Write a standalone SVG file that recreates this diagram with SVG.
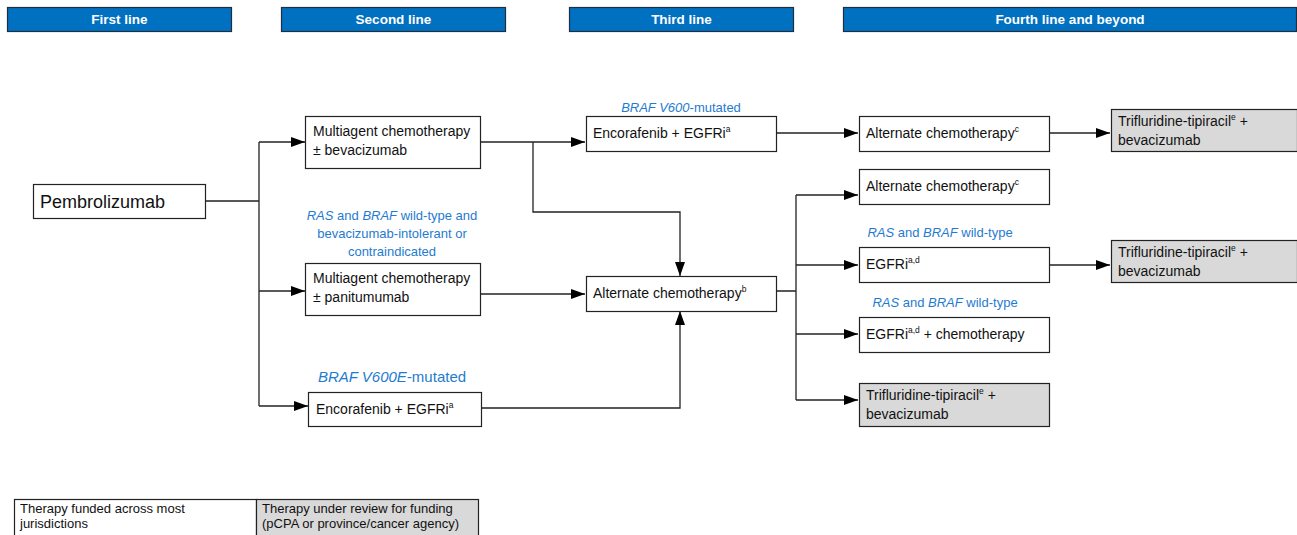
<svg xmlns="http://www.w3.org/2000/svg" width="1297" height="535" viewBox="0 0 1297 535">
<style>
.hdr{fill:#0070C0;stroke:#1f2f3f;stroke-width:1.2}
.ht{fill:#fff;font-family:"Liberation Sans",Arial,sans-serif;font-weight:bold;font-size:13.5px;text-anchor:middle}
.box{fill:#fff;stroke:#222;stroke-width:1.2}
.gbox{fill:#d9d9d9;stroke:#222;stroke-width:1.2}
.t{fill:#111;font-family:"Liberation Sans",Arial,sans-serif;font-size:14px}
.b{fill:#1F7BD0;font-family:"Liberation Sans",Arial,sans-serif;font-size:13px;text-anchor:middle}
.c{fill:none;stroke:#222;stroke-width:1.3}
.lg{fill:#111;font-family:"Liberation Sans",Arial,sans-serif;font-size:13px}
</style>
<defs>
<marker id="ar" viewBox="0 0 14 10" refX="14" refY="5" markerWidth="14" markerHeight="10" markerUnits="userSpaceOnUse" orient="auto">
<path d="M0,0 L14,5 L0,10 Z" fill="#000"/>
</marker>
</defs>
<rect width="1297" height="535" fill="#fff"/>
<g id="headers">
<rect class="hdr" x="7.5" y="7.5" width="224" height="24"/><text class="ht" x="119.5" y="24">First line</text>
<rect class="hdr" x="281.5" y="7.5" width="224" height="24"/><text class="ht" x="393.5" y="24">Second line</text>
<rect class="hdr" x="569.5" y="7.5" width="224" height="24"/><text class="ht" x="681.5" y="24">Third line</text>
<rect class="hdr" x="843.5" y="7.5" width="453" height="24"/><text class="ht" x="1070" y="24">Fourth line and beyond</text>
</g>
<g id="connectors">
<path class="c" d="M206,201 H259 M259,142 V406"/>
<path class="c" d="M259,142 H305" marker-end="url(#ar)"/>
<path class="c" d="M259,291 H305" marker-end="url(#ar)"/>
<path class="c" d="M259,406 H308" marker-end="url(#ar)"/>
<path class="c" d="M480,142 H585" marker-end="url(#ar)"/>
<path class="c" d="M533,142 V212 H680 V276" marker-end="url(#ar)"/>
<path class="c" d="M480,294 H585" marker-end="url(#ar)"/>
<path class="c" d="M481,408 H680 V311" marker-end="url(#ar)"/>
<path class="c" d="M776,133 H858" marker-end="url(#ar)"/>
<path class="c" d="M1049,133 H1110" marker-end="url(#ar)"/>
<path class="c" d="M776,291 H796 M796,195 V400"/>
<path class="c" d="M796,195 H858" marker-end="url(#ar)"/>
<path class="c" d="M796,265 H858" marker-end="url(#ar)"/>
<path class="c" d="M796,334 H858" marker-end="url(#ar)"/>
<path class="c" d="M796,400 H858" marker-end="url(#ar)"/>
<path class="c" d="M1049,265 H1110" marker-end="url(#ar)"/>
</g>
<g id="pembrolizumab">
<rect class="box" x="33.5" y="184.5" width="172" height="34"/>
<text class="t" x="40" y="208" style="font-size:18px">Pembrolizumab</text>
</g>
<g id="chemo-bev">
<rect class="box" x="305.5" y="116.5" width="175" height="52"/>
<text class="t" x="313" y="136">Multiagent chemotherapy</text>
<text class="t" x="313" y="155">± bevacizumab</text>
</g>
<g id="label-ras-bev">
<text class="b" x="392" y="220"><tspan font-style="italic">RAS</tspan> and <tspan font-style="italic">BRAF</tspan> wild-type and</text>
<text class="b" x="392" y="238">bevacizumab-intolerant or</text>
<text class="b" x="392" y="256">contraindicated</text>
</g>
<g id="chemo-pan">
<rect class="box" x="305.5" y="263.5" width="175" height="52"/>
<text class="t" x="313" y="283">Multiagent chemotherapy</text>
<text class="t" x="313" y="302">± panitumumab</text>
</g>
<g id="enco-2">
<text class="b" x="392" y="382" style="font-size:15px"><tspan font-style="italic">BRAF V600E</tspan>-mutated</text>
<rect class="box" x="308.5" y="392.5" width="173" height="34"/>
<text class="t" x="316" y="414">Encorafenib + EGFRi<tspan font-size="8.5" dy="-6">a</tspan></text>
</g>
<g id="enco-3">
<text class="b" x="681" y="112"><tspan font-style="italic">BRAF V600</tspan>-mutated</text>
<rect class="box" x="586.5" y="116.5" width="190" height="35"/>
<text class="t" x="593" y="138">Encorafenib + EGFRi<tspan font-size="8.5" dy="-6">a</tspan></text>
</g>
<g id="alt-chemo-b">
<rect class="box" x="586.5" y="276.5" width="190" height="35"/>
<text class="t" x="593" y="298">Alternate chemotherapy<tspan font-size="8.5" dy="-6">b</tspan></text>
</g>
<g id="alt-chemo-c1">
<rect class="box" x="859.5" y="116.5" width="190" height="35"/>
<text class="t" x="866" y="138">Alternate chemotherapy<tspan font-size="8.5" dy="-6">c</tspan></text>
</g>
<g id="tri-1">
<rect class="gbox" x="1111.5" y="109.5" width="186" height="42"/>
<text class="t" x="1118" y="126">Trifluridine-tipiracil<tspan font-size="8.5" dy="-6">e</tspan><tspan dy="6"> +</tspan></text>
<text class="t" x="1118" y="145">bevacizumab</text>
</g>
<g id="alt-chemo-c2">
<rect class="box" x="859.5" y="169.5" width="190" height="35"/>
<text class="t" x="866" y="191">Alternate chemotherapy<tspan font-size="8.5" dy="-6">c</tspan></text>
</g>
<g id="egfri">
<text class="b" x="940" y="237"><tspan font-style="italic">RAS</tspan> and <tspan font-style="italic">BRAF</tspan> wild-type</text>
<rect class="box" x="859.5" y="247.5" width="190" height="35"/>
<text class="t" x="866" y="269">EGFRi<tspan font-size="8.5" dy="-6">a,d</tspan></text>
</g>
<g id="tri-2">
<rect class="gbox" x="1111.5" y="240.5" width="186" height="42"/>
<text class="t" x="1118" y="257">Trifluridine-tipiracil<tspan font-size="8.5" dy="-6">e</tspan><tspan dy="6"> +</tspan></text>
<text class="t" x="1118" y="276">bevacizumab</text>
</g>
<g id="egfri-chemo">
<text class="b" x="945" y="307"><tspan font-style="italic">RAS</tspan> and <tspan font-style="italic">BRAF</tspan> wild-type</text>
<rect class="box" x="859.5" y="317.5" width="190" height="35"/>
<text class="t" x="866" y="339">EGFRi<tspan font-size="8.5" dy="-6">a,d</tspan><tspan dy="6"> + chemotherapy</tspan></text>
</g>
<g id="tri-3">
<rect class="gbox" x="859.5" y="383.5" width="190" height="43"/>
<text class="t" x="866" y="400">Trifluridine-tipiracil<tspan font-size="8.5" dy="-6">e</tspan><tspan dy="6"> +</tspan></text>
<text class="t" x="866" y="419">bevacizumab</text>
</g>
<g id="legend">
<rect class="box" x="14.5" y="499.5" width="242" height="38"/>
<rect class="gbox" x="256.5" y="499.5" width="222" height="38"/>
<text class="lg" x="20" y="513">Therapy funded across most</text>
<text class="lg" x="20" y="528">jurisdictions</text>
<text class="lg" x="262" y="513">Therapy under review for funding</text>
<text class="lg" x="262" y="528">(pCPA or province/cancer agency)</text>
</g>
</svg>
